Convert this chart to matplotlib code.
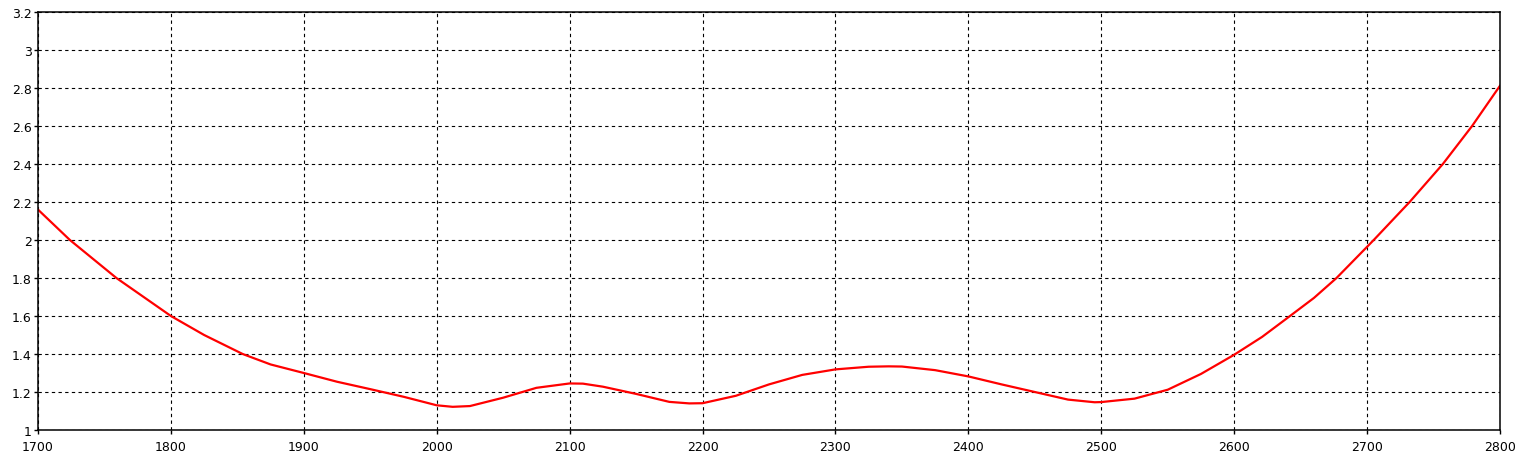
import numpy as np
import matplotlib
matplotlib.use("Agg")
import matplotlib.pyplot as plt
from matplotlib.ticker import FuncFormatter

# curve values
x = [1700, 1724, 1759, 1800, 1825, 1854, 1875, 1900, 1925,
     1950, 1975, 2000, 2012, 2025, 2050, 2075, 2100, 2110, 2125,
     2150, 2175, 2190, 2200, 2225, 2250, 2275, 2300, 2325, 2340,
     2350, 2375, 2400, 2425, 2450, 2475, 2495, 2500, 2525, 2550,
     2575, 2600, 2621, 2642, 2660, 2677, 2705, 2732, 2757, 2779, 2800]
y = [2.16, 2.0, 1.8, 1.6, 1.5, 1.4, 1.345, 1.30, 1.254,
     1.215, 1.175, 1.13, 1.122, 1.126, 1.17, 1.222, 1.245, 1.244, 1.228,
     1.19, 1.148, 1.14, 1.141, 1.18, 1.24, 1.29, 1.319, 1.333, 1.335,
     1.334, 1.315, 1.282, 1.24, 1.2, 1.16, 1.146, 1.147, 1.165, 1.212,
     1.295, 1.396, 1.49, 1.6, 1.695, 1.8, 2.0, 2.2, 2.4, 2.6, 2.812]

xticks = [1700, 1800, 1900, 2000, 2100, 2200, 2300, 2400, 2500, 2600, 2700, 2800]
yticks = [1, 1.2, 1.4, 1.6, 1.8, 2, 2.2, 2.4, 2.6, 2.8, 3, 3.2]

fig = plt.figure(figsize=(15.26, 4.64), dpi=100)
ax = fig.add_axes([38/1526, 33/464, 1462/1526, 418/464])

ax.plot(x, y, color='red', lw=1.6, solid_joinstyle='round')

ax.set_xlim(1700, 2800)
ax.set_ylim(1, 3.2)
ax.set_xticks(xticks)
ax.set_yticks(yticks)
ax.yaxis.set_major_formatter(FuncFormatter(lambda v, p: '%g' % round(v, 1)))
ax.grid(True, color='black', lw=0.8, linestyle=(0, (3, 3)))
ax.set_axisbelow(True)

for s in ax.spines.values():
    s.set_linewidth(1.1)
ax.tick_params(direction='out', length=3, width=1, labelsize=9, colors='black')
ax.tick_params(axis='x', pad=4)
ax.tick_params(axis='y', pad=1.5)

fig.savefig('out.png', dpi=100)
